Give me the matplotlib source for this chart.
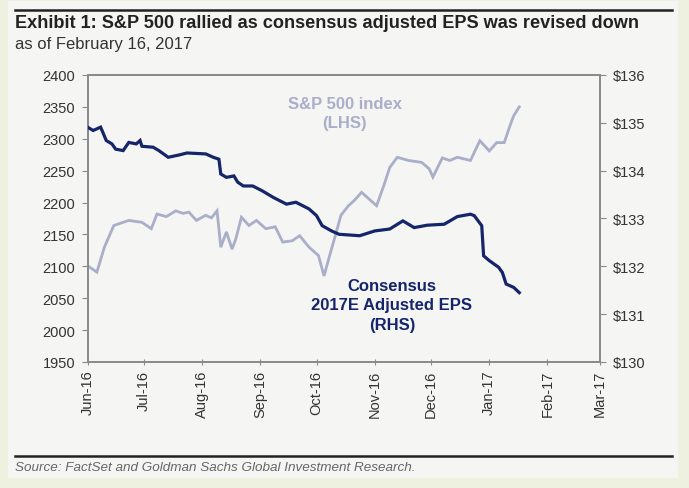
import matplotlib
matplotlib.use("Agg")
import matplotlib.pyplot as plt
from matplotlib.patches import Rectangle
from matplotlib.lines import Line2D
import pandas as pd

plt.rcParams['font.family'] = ['Liberation Sans', 'DejaVu Sans']

# ---- data ----
spx_dates = ["2016-06-01", "2016-06-06", "2016-06-10", "2016-06-15", "2016-06-19", "2016-06-23",
             "2016-06-30", "2016-07-05", "2016-07-08", "2016-07-13", "2016-07-18", "2016-07-22",
             "2016-07-25", "2016-07-29", "2016-08-03", "2016-08-06", "2016-08-09", "2016-08-11",
             "2016-08-14", "2016-08-17", "2016-08-19", "2016-08-22", "2016-08-26", "2016-08-30",
             "2016-09-04", "2016-09-09", "2016-09-13", "2016-09-18", "2016-09-22", "2016-09-27",
             "2016-10-02", "2016-10-05", "2016-10-08", "2016-10-11", "2016-10-14", "2016-10-18",
             "2016-10-21", "2016-10-25", "2016-11-02", "2016-11-06", "2016-11-09", "2016-11-13",
             "2016-11-19", "2016-11-26", "2016-11-30", "2016-12-02", "2016-12-07", "2016-12-11",
             "2016-12-15", "2016-12-22", "2016-12-27", "2017-01-01", "2017-01-05", "2017-01-09",
             "2017-01-12", "2017-01-14", "2017-01-17"]
spx_values = [2101, 2091, 2130, 2164, 2168, 2172,
              2169, 2159, 2182, 2178, 2187, 2183,
              2185, 2172, 2180, 2176, 2187, 2130,
              2154, 2127, 2143, 2177, 2164, 2172,
              2159, 2162, 2138, 2140, 2148, 2130,
              2117, 2085, 2117, 2148, 2180, 2195,
              2203, 2216, 2195, 2228, 2255, 2271,
              2266, 2263, 2253, 2240, 2270, 2266,
              2271, 2266, 2297, 2281, 2294, 2294,
              2320, 2336, 2350]

eps_dates = ["2016-06-01", "2016-06-04", "2016-06-08", "2016-06-11", "2016-06-14", "2016-06-16",
             "2016-06-20", "2016-06-23", "2016-06-27", "2016-06-29", "2016-06-30", "2016-07-06",
             "2016-07-09", "2016-07-14", "2016-07-20", "2016-07-24", "2016-08-03", "2016-08-07",
             "2016-08-10", "2016-08-11", "2016-08-14", "2016-08-18", "2016-08-20", "2016-08-23",
             "2016-08-28", "2016-09-02", "2016-09-08", "2016-09-15", "2016-09-20", "2016-09-27",
             "2016-10-01", "2016-10-04", "2016-10-09", "2016-10-13", "2016-10-24", "2016-11-01",
             "2016-11-09", "2016-11-16", "2016-11-22", "2016-11-29", "2016-12-08", "2016-12-15",
             "2016-12-22", "2016-12-24", "2016-12-28", "2016-12-29", "2017-01-01", "2017-01-06",
             "2017-01-08", "2017-01-10", "2017-01-14", "2017-01-17"]
eps_values = [134.91, 134.84, 134.91, 134.63, 134.56, 134.45,
              134.42, 134.59, 134.56, 134.63, 134.51, 134.49,
              134.42, 134.28, 134.33, 134.37, 134.35, 134.28,
              134.24, 133.93, 133.86, 133.89, 133.76, 133.68,
              133.68, 133.58, 133.44, 133.30, 133.34, 133.20,
              133.06, 132.85, 132.74, 132.67, 132.64, 132.74,
              132.78, 132.95, 132.81, 132.86, 132.88, 133.04,
              133.09, 133.06, 132.85, 132.22, 132.12, 131.98,
              131.87, 131.63, 131.56, 131.45]

month_ticks = ["2016-06-01", "2016-07-01", "2016-08-01", "2016-09-01", "2016-10-01",
               "2016-11-01", "2016-12-01", "2017-01-01", "2017-02-01", "2017-03-01"]
month_labels = ["Jun-16", "Jul-16", "Aug-16", "Sep-16", "Oct-16",
                "Nov-16", "Dec-16", "Jan-17", "Feb-17", "Mar-17"]
lhs_ticks = [1950, 2000, 2050, 2100, 2150, 2200, 2250, 2300, 2350, 2400]
rhs_ticks = [130, 131, 132, 133, 134, 135, 136]

title = "Exhibit 1: S&P 500 rallied as consensus adjusted EPS was revised down"
subtitle = "as of February 16, 2017"
source = "Source: FactSet and Goldman Sachs Global Investment Research."

# ---- styling ----
W, H = 689, 489
cream = "#eef0e0"
panel = "#f5f5f3"
navy = "#15256a"
lav = "#a9aec9"
grey_axis = "#8a8a8a"
text_c = "#333333"

fig = plt.figure(figsize=(W / 100, H / 100), dpi=100, facecolor=cream)

def fx(px):
    return px / W

def fy(py):
    return 1 - py / H

fig.patches.append(Rectangle((fx(8), fy(479)), fx(678) - fx(8), fy(2) - fy(479),
                             transform=fig.transFigure, facecolor=panel, edgecolor="none",
                             zorder=-10))
fig.lines.append(Line2D([fx(15), fx(672)], [fy(11), fy(11)], transform=fig.transFigure,
                        color="#222222", lw=1.8, zorder=-5))
fig.lines.append(Line2D([fx(15), fx(672)], [fy(457), fy(457)], transform=fig.transFigure,
                        color="#222222", lw=1.8, zorder=-5))

fig.text(fx(15), fy(23), title, fontsize=13.1, fontweight="bold", color="#222222",
         ha="left", va="center")
fig.text(fx(15), fy(44), subtitle, fontsize=12, color="#333333", ha="left", va="center")
fig.text(fx(15), fy(468), source, fontsize=9.7, style="italic", color="#666666",
         ha="left", va="center")

ax = fig.add_axes([fx(87.5), fy(363), fx(600) - fx(87.5), fy(76) - fy(363)])
ax.set_facecolor(panel)
ax2 = ax.twinx()

sd = pd.to_datetime(spx_dates)
ed = pd.to_datetime(eps_dates)
ax.plot(sd, spx_values, color=lav, lw=2.0, zorder=2, solid_joinstyle="miter")
ax2.plot(ed, eps_values, color=navy, lw=2.3, zorder=3, solid_joinstyle="miter")

ax.set_ylim(1950, 2400)
ax2.set_ylim(130, 136)
ax.set_xlim(pd.Timestamp("2016-06-01"), pd.Timestamp("2017-03-01"))

ax.set_yticks(lhs_ticks)
ax.set_yticklabels([str(v) for v in lhs_ticks])
ax2.set_yticks(rhs_ticks)
ax2.set_yticklabels(["$%d" % v for v in rhs_ticks])
ax.set_xticks(pd.to_datetime(month_ticks))
ax.set_xticklabels(month_labels, rotation=90)

for a in (ax, ax2):
    for s in a.spines.values():
        s.set_color(grey_axis)
        s.set_linewidth(1.2)
ax.tick_params(axis="y", direction="out", length=4, color=grey_axis, labelsize=10.5,
               labelcolor=text_c, pad=5)
ax2.tick_params(axis="y", direction="out", length=4, color=grey_axis, labelsize=10.5,
                labelcolor=text_c, pad=5)
ax.tick_params(axis="x", direction="inout", length=5, color=grey_axis, labelsize=10.5,
               labelcolor=text_c, pad=3)

ax.text(0.502, 0.868, "S&P 500 index\n(LHS)", transform=ax.transAxes, ha="center",
        va="center", fontsize=12, fontweight="bold", color=lav, linespacing=1.3)
ax.text(0.594, 0.199, "Consensus\n2017E Adjusted EPS\n(RHS)", transform=ax.transAxes,
        ha="center", va="center", fontsize=12, fontweight="bold", color=navy,
        linespacing=1.35)

fig.savefig("out.png", dpi=100, facecolor=cream)
